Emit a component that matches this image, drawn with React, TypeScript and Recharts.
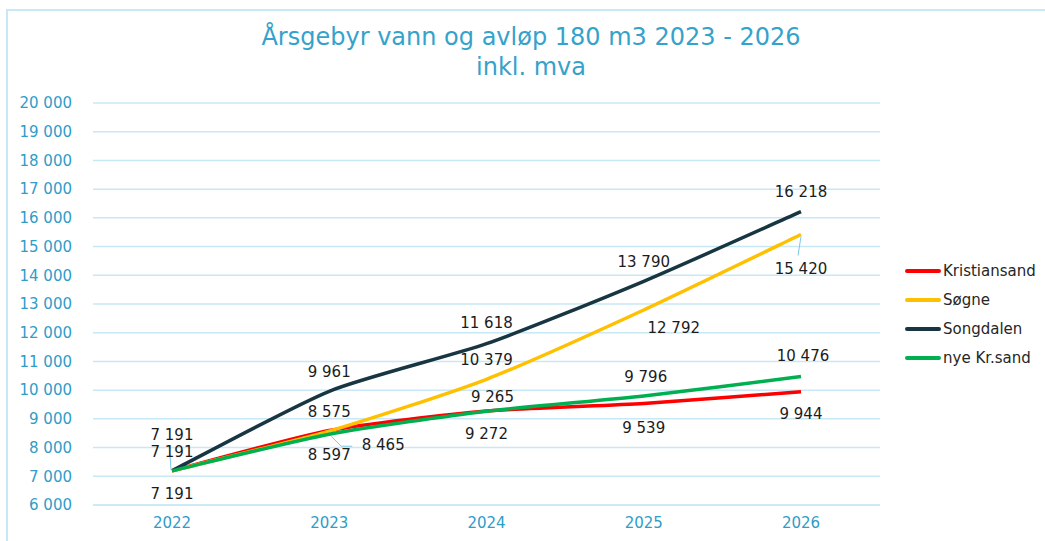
import { CartesianGrid, LabelList, Line, LineChart, XAxis, YAxis } from "recharts";

const YEARS = ["2022", "2023", "2024", "2025", "2026"];
const KRISTIANSAND = [7191, 8597, 9272, 9539, 9944];
const SOGNE = [7191, 8575, 10379, 12792, 15420];
const SONGDALEN = [7191, 9961, 11618, 13790, 16218];
const NYE_KRSAND = [7191, 8465, 9265, 9796, 10476];
const Y_TICKS = [6000, 7000, 8000, 9000, 10000, 11000, 12000, 13000, 14000, 15000, 16000, 17000, 18000, 19000, 20000];

const data = YEARS.map((year, i) => ({
  year,
  kristiansand: KRISTIANSAND[i],
  sogne: SOGNE[i],
  songdalen: SONGDALEN[i],
  nye: NYE_KRSAND[i],
}));

const SERIES = [
  { key: "kristiansand", name: "Kristiansand", color: "#ff0000" },
  { key: "sogne", name: "Søgne", color: "#ffc000" },
  { key: "songdalen", name: "Songdalen", color: "#173642" },
  { key: "nye", name: "nye Kr.sand", color: "#00b050" },
];

const FONT = "'DejaVu Sans', Verdana, sans-serif";
const TEAL = "#2f9dc8";
const GRID = "#c8e8f5";

// label placement per series/point: [dx, dy, leader?] (null = hidden)
type Place = [number, number, boolean] | null;
const PLACES: Record<string, Place[]> = {
  kristiansand: [[0, 23, false], [0, 25, false], [0, 23, false], [0, 25, false], [0, 22, false]],
  sogne: [[0, -19, true], [0, -19, false], [0, -19, false], [30, 18, false], [0, 34, true]],
  songdalen: [[0, -36, false], [0, -19, false], [0, -21, false], [0, -19, false], [0, -20, false]],
  nye: [null, [54, 11, true], [6, -14, false], [2, -19, false], [2, -20, false]],
};

const fmt = (v: number) => String(v).replace(/\B(?=(\d{3})+(?!\d))/g, " ");

// Excel-like light smoothing (loose catmull-rom)
function excelSmooth(ctx: any) {
  let pts: [number, number][] = [];
  const K = 0.11;
  return {
    areaStart() {},
    areaEnd() {},
    lineStart() {
      pts = [];
    },
    point(x: number, y: number) {
      pts.push([+x, +y]);
    },
    lineEnd() {
      if (!pts.length) return;
      ctx.moveTo(pts[0][0], pts[0][1]);
      for (let i = 0; i < pts.length - 1; i++) {
        const p0 = pts[Math.max(0, i - 1)];
        const p1 = pts[i];
        const p2 = pts[i + 1];
        const p3 = pts[Math.min(pts.length - 1, i + 2)];
        ctx.bezierCurveTo(
          p1[0] + (p2[0] - p0[0]) * K,
          p1[1] + (p2[1] - p0[1]) * K,
          p2[0] - (p3[0] - p1[0]) * K,
          p2[1] - (p3[1] - p1[1]) * K,
          p2[0],
          p2[1]
        );
      }
    },
  };
}

function makeLabel(key: string) {
  return (props: any) => {
    const { x, y, value, index } = props;
    const p = PLACES[key][index];
    if (!p) return null;
    const [dx, dy, leader] = p;
    const lx = x + dx;
    const ly = y + dy;
    let lead = null;
    if (leader) {
      if (dx > 20) {
        lead = <polyline points={`${x + 2},${y + 2} ${x + 12},${y + 12} ${x + 23},${y + 12}`} fill="none" stroke="#7cc8e6" strokeWidth={1} />;
      } else if (dy < 0) {
        lead = <line x1={x - 1} y1={y - 1} x2={x - 2} y2={y - 16} stroke="#7cc8e6" strokeWidth={1} />;
      } else {
        lead = <line x1={x} y1={y + 2} x2={x - 3} y2={y + 21} stroke="#7cc8e6" strokeWidth={1} />;
      }
    }
    return (
      <g>
        {lead}
        <text x={lx} y={ly} textAnchor="middle" dominantBaseline="central" fontSize={15} fontFamily={FONT} fill="#1c1c1c">
          {fmt(value)}
        </text>
      </g>
    );
  };
}

function LegendBox() {
  return (
    <div style={{ position: "absolute", left: 905, top: 256, fontFamily: FONT, fontSize: 15, color: "#262626" }}>
      {SERIES.map((s) => (
        <div key={s.key} style={{ display: "flex", alignItems: "center", height: 29 }}>
          <span style={{ display: "inline-block", width: 36, height: 4, borderRadius: 2, background: s.color, marginRight: 2 }} />
          <span>{s.name}</span>
        </div>
      ))}
    </div>
  );
}

export default function App() {
  return (
    <div style={{ position: "absolute", left: 0, top: 0, width: 1045, height: 541, background: "#fff", overflow: "hidden" }}>
      <div
        style={{
          position: "absolute",
          left: 6,
          top: 9,
          width: 1060,
          height: 560,
          border: `2px solid ${GRID}`,
          boxSizing: "border-box",
        }}
      />
      <div
        style={{
          position: "absolute",
          left: 0,
          top: 22,
          width: 1062,
          textAlign: "center",
          fontFamily: FONT,
          fontSize: 24,
          lineHeight: "30px",
          color: "#35a2cb",
        }}
      >
        Årsgebyr vann og avløp 180 m3 2023 - 2026
        <br />
        inkl. mva
      </div>
      <LineChart width={1045} height={541} data={data} margin={{ top: 103, right: 165, bottom: 6, left: 13 }} style={{ position: "absolute", left: 0, top: 0 }}>
        <CartesianGrid horizontal vertical={false} stroke={GRID} strokeWidth={1.5} />
        <XAxis
          dataKey="year"
          padding={{ left: 79, right: 79 }}
          axisLine={{ stroke: GRID, strokeWidth: 1.5 }}
          tickLine={false}
          tickMargin={6}
          height={30}
          tick={{ fill: TEAL, fontSize: 15, fontFamily: FONT }}
        />
        <YAxis
          domain={[6000, 20000]}
          ticks={Y_TICKS}
          interval={0}
          width={80}
          axisLine={false}
          tickLine={false}
          tickMargin={15}
          tickFormatter={fmt}
          tick={{ fill: TEAL, fontSize: 15, fontFamily: FONT }}
        />
        {SERIES.map((s) => (
          <Line
            key={s.key}
            type={excelSmooth as any}
            dataKey={s.key}
            name={s.name}
            stroke={s.color}
            strokeWidth={3.5}
            dot={false}
            isAnimationActive={false}
          >
            <LabelList dataKey={s.key} content={makeLabel(s.key)} />
          </Line>
        ))}
      </LineChart>
      <LegendBox />
    </div>
  );
}
